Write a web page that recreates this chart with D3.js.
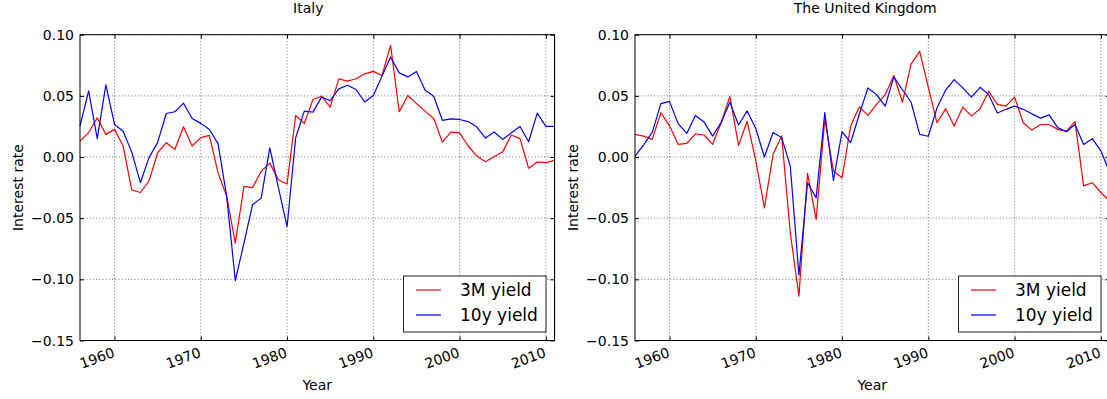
<!DOCTYPE html>
<html><head><meta charset="utf-8">
<script src="https://cdn.jsdelivr.net/npm/d3@7/dist/d3.min.js"></script>
<style>
body{margin:0;background:#fff}
text{font-family:"DejaVu Sans",sans-serif;fill:#000}
</style>
</head><body>
<svg id="chart" width="1107" height="399"></svg>
<script>
const years = [1956,1957,1958,1959,1960,1961,1962,1963,1964,1965,1966,1967,1968,1969,1970,1971,1972,1973,1974,1975,1976,1977,1978,1979,1980,1981,1982,1983,1984,1985,1986,1987,1988,1989,1990,1991,1992,1993,1994,1995,1996,1997,1998,1999,2000,2001,2002,2003,2004,2005,2006,2007,2008,2009,2010,2011];

const italy3M = [0.013,0.020,0.032,0.0185,0.0226,0.009,-0.027,-0.029,-0.0196,0.0035,0.0117,0.0063,0.0247,0.009,0.0158,0.0177,-0.013,-0.032,-0.0705,-0.024,-0.025,-0.0117,-0.005,-0.0186,-0.022,0.034,0.0274,0.047,0.0497,0.0408,0.0639,0.062,0.064,0.068,0.070,0.0666,0.0913,0.037,0.0503,0.0437,0.0375,0.0315,0.0122,0.0204,0.0198,0.009,0.0008,-0.0038,0.0003,0.0043,0.018,0.015,-0.0092,-0.004,-0.0046,-0.0027];
const italy10y = [0.0253,0.054,0.015,0.059,0.0266,0.021,0.004,-0.021,-0.0005,0.012,0.0356,0.037,0.044,0.0315,0.0275,0.0225,0.011,-0.032,-0.101,-0.0705,-0.039,-0.0336,0.0074,-0.025,-0.057,0.0158,0.0375,0.0367,0.049,0.046,0.0557,0.0587,0.0552,0.045,0.0503,0.066,0.0818,0.0688,0.0655,0.070,0.0546,0.0497,0.030,0.0312,0.0307,0.029,0.0245,0.0155,0.0204,0.0144,0.0198,0.025,0.0125,0.0359,0.025,0.025];
const uk3M = [0.0185,0.0171,0.0144,0.0362,0.0255,0.0104,0.0112,0.019,0.018,0.0104,0.0285,0.0495,0.0095,0.0292,-0.003,-0.0416,0.002,0.0173,-0.062,-0.1137,-0.0134,-0.051,0.031,-0.0115,-0.017,0.0255,0.041,0.034,0.043,0.051,0.0666,0.0448,0.076,0.0864,0.057,0.028,0.0394,0.0253,0.0408,0.0334,0.0394,0.0538,0.043,0.0416,0.049,0.028,0.022,0.0266,0.0266,0.0226,0.0212,0.029,-0.0236,-0.021,-0.029,-0.036];
const uk10y = [0.0008,0.010,0.0202,0.0437,0.0455,0.0273,0.0193,0.034,0.0287,0.0171,0.0283,0.0449,0.0262,0.0377,0.0233,0.000,0.020,0.0159,-0.0074,-0.0964,-0.021,-0.0334,0.0364,-0.0192,0.0208,0.0118,0.035,0.0565,0.051,0.0416,0.0655,0.055,0.0448,0.0185,0.017,0.040,0.0546,0.0633,0.0565,0.049,0.057,0.051,0.036,0.039,0.0416,0.039,0.0353,0.0318,0.0345,0.024,0.0207,0.0266,0.0103,0.015,0.005,-0.012];

const xTicks = [1960,1970,1980,1990,2000,2010];
const yTicks = [-0.15,-0.10,-0.05,0.00,0.05,0.10];
const seriesNames = ["3M yield","10y yield"];
const seriesColors = ["#ff0000","#0000ff"];

const panels = [
  {title:"Italy", m3:italy3M, y10:italy10y, left:80, titleShift:-9},
  {title:"The United Kingdom", m3:uk3M, y10:uk10y, left:635, titleShift:-7}
];

const svg = d3.select("#chart");
const plotW = 474.5, plotTop = 34.7, plotBottom = 340.5;

// faint seam between the two images
svg.append("line").attr("x1",555.5).attr("x2",555.5).attr("y1",33).attr("y2",341)
  .attr("stroke","#e6e6e6").attr("stroke-width",1);

panels.forEach(p => {
  const x = d3.scaleLinear().domain([1956,2011]).range([p.left, p.left+plotW]);
  const y = d3.scaleLinear().domain([-0.15,0.10]).range([plotBottom, plotTop]);
  const g = svg.append("g");
  const cx = p.left + plotW/2;

  // grid
  g.selectAll(".gx").data(xTicks).join("line")
    .attr("x1",d=>x(d)).attr("x2",d=>x(d)).attr("y1",plotTop).attr("y2",plotBottom)
    .attr("stroke","#333").attr("stroke-width",0.7).attr("stroke-dasharray","1,2.2");
  g.selectAll(".gy").data(yTicks).join("line")
    .attr("x1",p.left).attr("x2",p.left+plotW).attr("y1",d=>y(d)).attr("y2",d=>y(d))
    .attr("stroke","#333").attr("stroke-width",0.7).attr("stroke-dasharray","1,2.2");

  // lines
  const line = vals => d3.line().x((d,i)=>x(years[i])).y(d=>y(d))(vals);
  [p.m3, p.y10].forEach((vals,k) => {
    g.append("path").attr("d", line(vals)).attr("fill","none")
      .attr("stroke", seriesColors[k]).attr("stroke-width",1.2).attr("stroke-linejoin","round");
  });

  // inward ticks via axes
  g.append("g").attr("transform",`translate(0,${plotBottom})`)
    .call(d3.axisBottom(x).tickValues(xTicks).tickSize(-4).tickFormat(""))
    .call(a=>a.select(".domain").remove());
  g.append("g").attr("transform",`translate(0,${plotTop})`)
    .call(d3.axisTop(x).tickValues(xTicks).tickSize(-4).tickFormat(""))
    .call(a=>a.select(".domain").remove());
  g.append("g").attr("transform",`translate(${p.left},0)`)
    .call(d3.axisLeft(y).tickValues(yTicks).tickSize(-4).tickFormat(""))
    .call(a=>a.select(".domain").remove());
  g.append("g").attr("transform",`translate(${p.left+plotW},0)`)
    .call(d3.axisRight(y).tickValues(yTicks).tickSize(-4).tickFormat(""))
    .call(a=>a.select(".domain").remove());

  // frame
  g.append("rect").attr("x",p.left).attr("y",plotTop).attr("width",plotW).attr("height",plotBottom-plotTop)
    .attr("fill","none").attr("stroke","#000").attr("stroke-width",1);

  // y tick labels
  const fmt = d3.format(".2f");
  g.selectAll(".yl").data(yTicks).join("text")
    .attr("x",p.left-6).attr("y",d=>y(d)).attr("dy","0.36em")
    .attr("text-anchor","end").attr("font-size",14).text(d=>fmt(d));

  // x tick labels rotated
  g.selectAll(".xl").data(xTicks).join("text")
    .attr("transform",d=>`translate(${x(d)+1},${plotBottom+16}) rotate(-20)`)
    .attr("text-anchor","end").attr("font-size",14).text(d=>d);

  // titles and labels
  g.append("text").attr("x",cx+p.titleShift).attr("y",12.5).attr("text-anchor","middle")
    .attr("font-size",14).text(p.title);
  g.append("text").attr("x",cx).attr("y",389.5).attr("text-anchor","middle")
    .attr("font-size",14).text("Year");
  g.append("text").attr("transform",`translate(${p.left-57},${(plotTop+plotBottom)/2}) rotate(-90)`)
    .attr("text-anchor","middle").attr("font-size",14).text("Interest rate");

  // legend
  const lx = p.left+plotW-8.5-142.5, ly = 276;
  const lg = g.append("g");
  lg.append("rect").attr("x",lx).attr("y",ly).attr("width",142.5).attr("height",56)
    .attr("fill","#fff").attr("stroke","#222").attr("stroke-width",1);
  seriesNames.forEach((nm,k) => {
    const ry = ly + 14 + k*25;
    lg.append("line").attr("x1",lx+12.5).attr("x2",lx+37.5).attr("y1",ry).attr("y2",ry)
      .attr("stroke",seriesColors[k]).attr("stroke-width",1.2);
    lg.append("text").attr("x",lx+56.5).attr("y",ry).attr("dy","0.36em")
      .attr("font-size",17).text(nm);
  });
});
</script>
</body></html>
